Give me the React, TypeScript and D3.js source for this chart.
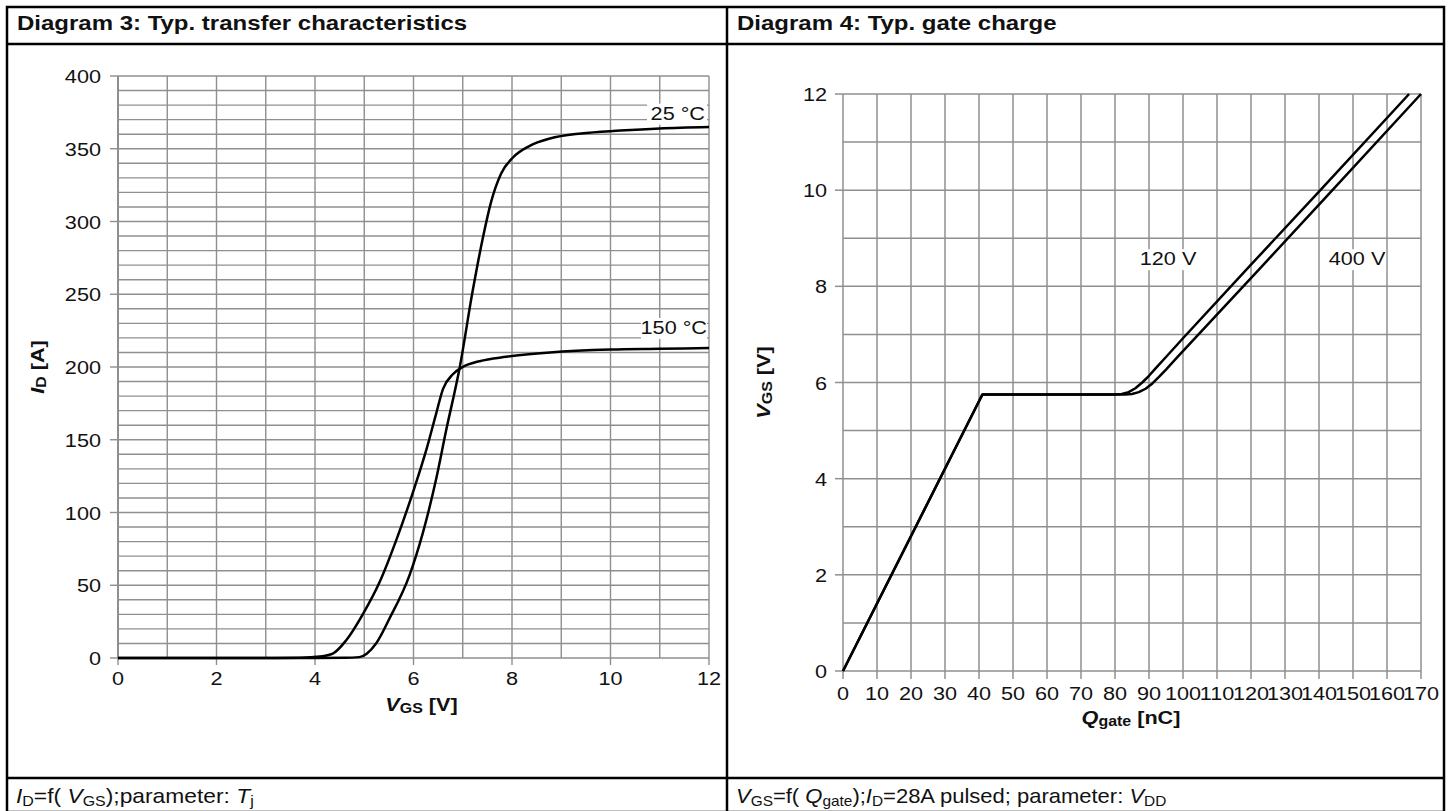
import React from "react";
import * as d3 from "d3";

// ---------- Diagram 3: transfer characteristics ----------
const vgs25 = [0, 1, 2, 3, 4, 4.6, 4.9, 5.05, 5.24, 5.51, 5.92, 6.19, 6.46, 6.66, 6.94, 7.2, 7.41, 7.58, 7.78, 8.02, 8.36, 8.77, 9.4, 10.2, 11, 12];
const id25 = [0, 0, 0, 0, 0, 0.1, 0.6, 3, 10, 27, 57, 86, 123, 156, 200, 252, 289, 314, 333, 344, 352, 357, 360.5, 362.5, 364, 365];
const vgs150 = [0, 1, 2, 3, 3.7, 4.1, 4.36, 4.63, 4.97, 5.31, 5.65, 5.99, 6.26, 6.46, 6.6, 6.8, 7.0, 7.34, 7.88, 8.77, 10, 11, 12];
const id150 = [0, 0, 0, 0, 0.2, 1, 3, 12, 30, 52, 81, 114, 143, 168, 185, 195, 200, 204, 207, 210, 212, 212.5, 213];
const xTicksL = [0, 2, 4, 6, 8, 10, 12];
const yTicksL = [0, 50, 100, 150, 200, 250, 300, 350, 400];

// ---------- Diagram 4: gate charge ----------
const q120 = [0, 41, 80, 82, 84, 86, 88, 90, 92, 95, 100, 120, 140, 166.5];
const v120 = [0, 5.75, 5.75, 5.76, 5.8, 5.88, 6.0, 6.14, 6.3, 6.53, 6.92, 8.45, 9.97, 12];
const q400 = [0, 41, 83, 85, 87, 89, 91, 93, 95, 98, 103, 123, 143, 170];
const v400 = [0, 5.75, 5.75, 5.76, 5.8, 5.87, 5.98, 6.12, 6.27, 6.5, 6.88, 8.4, 9.93, 12];
const xTicksR = [0, 10, 20, 30, 40, 50, 60, 70, 80, 90, 100, 110, 120, 130, 140, 150, 160, 170];
const yTicksR = [0, 2, 4, 6, 8, 10, 12];

const FONT = "'Liberation Sans', Arial, Helvetica, sans-serif";
const SX = 1.14;
const GRID = "#8f8f8f";

function T(props: any) {
  const { x, y, anchor = "start", size = 19, weight = "normal", rotate = 0, sx = SX, children, style } = props;
  return (
    <text
      transform={`translate(${x},${y}) rotate(${rotate}) scale(${sx},1)`}
      textAnchor={anchor}
      fontSize={size}
      fontWeight={weight}
      fontFamily={FONT}
      fill="#111"
      style={style}
    >
      {children}
    </text>
  );
}

export default function App() {
  const xL = d3.scaleLinear().domain([0, 12]).range([118, 709]);
  const yL = d3.scaleLinear().domain([0, 400]).range([658, 76]);
  const xR = d3.scaleLinear().domain([0, 170]).range([843, 1421]);
  const yR = d3.scaleLinear().domain([0, 12]).range([671, 94]);

  const lineL = d3
    .line<[number, number]>()
    .x((d) => xL(d[0]))
    .y((d) => yL(d[1]))
    .curve(d3.curveMonotoneX);
  const lineR = d3
    .line<[number, number]>()
    .x((d) => xR(d[0]))
    .y((d) => yR(d[1]))
    .curve(d3.curveLinear);

  const zip = (a: number[], b: number[]) => a.map((v, i) => [v, b[i]] as [number, number]);

  const gridVL = d3.range(0, 13, 1);
  const gridHL = d3.range(0, 401, 10);
  const gridVR = d3.range(0, 171, 10);
  const gridHR = d3.range(0, 13, 1);

  return (
    <svg width={1453} height={811} style={{ position: "absolute", left: 0, top: 0, background: "#fff" }}>
      <rect x={0} y={0} width={1453} height={811} fill="#fff" />

      <g stroke="#000" strokeWidth={2.5} fill="none">
        <rect x={7} y={7} width={1437} height={805} />
        <line x1={7} x2={1444} y1={44} y2={44} />
        <line x1={7} x2={1444} y1={778} y2={778} />
        <line x1={727} x2={727} y1={7} y2={812} />
      </g>

      <T x={17} y={30} size={20} weight="bold" sx={1.2}>Diagram 3: Typ. transfer characteristics</T>
      <T x={737} y={30} size={20} weight="bold" sx={1.2}>Diagram 4: Typ. gate charge</T>

      <T x={16} y={803} size={20} sx={1.14}>
        <tspan fontStyle="italic">I</tspan>
        <tspan fontSize={14} dy={3}>D</tspan>
        <tspan dy={-3}>=f( </tspan>
        <tspan fontStyle="italic">V</tspan>
        <tspan fontSize={14} dy={3}>GS</tspan>
        <tspan dy={-3}>);parameter:  </tspan>
        <tspan fontStyle="italic">T</tspan>
        <tspan fontSize={14} dy={3}>j</tspan>
      </T>
      <T x={736} y={803} size={20} sx={1.1}>
        <tspan fontStyle="italic">V</tspan>
        <tspan fontSize={14} dy={3}>GS</tspan>
        <tspan dy={-3}>=f( </tspan>
        <tspan fontStyle="italic">Q</tspan>
        <tspan fontSize={14} dy={3}>gate</tspan>
        <tspan dy={-3}>);</tspan>
        <tspan fontStyle="italic">I</tspan>
        <tspan fontSize={14} dy={3}>D</tspan>
        <tspan dy={-3}>=28A pulsed; parameter:  </tspan>
        <tspan fontStyle="italic">V</tspan>
        <tspan fontSize={14} dy={3}>DD</tspan>
      </T>

      {/* ---------- Left chart ---------- */}
      <g stroke={GRID} strokeWidth={1.4}>
        {gridHL.map((v) => (
          <line key={"hl" + v} x1={xL(0)} x2={xL(12)} y1={yL(v)} y2={yL(v)} />
        ))}
        {gridVL.map((v) => (
          <line key={"vl" + v} x1={xL(v)} x2={xL(v)} y1={yL(0)} y2={yL(400)} />
        ))}
        {yTicksL.map((v) => (
          <line key={"tyl" + v} x1={xL(0) - 8} x2={xL(0)} y1={yL(v)} y2={yL(v)} />
        ))}
        {xTicksL.map((v) => (
          <line key={"txl" + v} x1={xL(v)} x2={xL(v)} y1={yL(0)} y2={yL(0) + 7} />
        ))}
      </g>
      <line x1={xL(0)} x2={xL(0)} y1={yL(0)} y2={yL(400)} stroke={GRID} strokeWidth={2} />
      {yTicksL.map((v) => (
        <T key={"yl" + v} x={xL(0) - 17} y={yL(v) + 7} anchor="end">{v}</T>
      ))}
      {xTicksL.map((v) => (
        <T key={"xl" + v} x={xL(v)} y={yL(0) + 27} anchor="middle">{v}</T>
      ))}

      <path d={lineL(zip(vgs150, id150)) || ""} fill="none" stroke="#000" strokeWidth={2.5} />
      <path d={lineL(zip(vgs25, id25)) || ""} fill="none" stroke="#000" strokeWidth={2.5} />

      <rect x={xL(12) - 62} y={yL(370) - 16} width={60} height={21} fill="#fff" />
      <T x={xL(12) - 4} y={yL(370)} anchor="end">25 °C</T>
      <rect x={xL(12) - 68} y={yL(222.7) - 16} width={66} height={21} fill="#fff" />
      <T x={xL(12) - 2} y={yL(222.7)} anchor="end">150 °C</T>

      <T x={(xL(0) + xL(12)) / 2 + 8} y={711} anchor="middle" weight="bold">
        <tspan fontStyle="italic">V</tspan>
        <tspan fontSize={14} dy={2}>GS</tspan>
        <tspan dy={-2}> [V]</tspan>
      </T>
      <T x={44} y={yL(200)} anchor="middle" weight="bold" rotate={-90}>
        <tspan fontStyle="italic">I</tspan>
        <tspan fontSize={14} dy={2}>D</tspan>
        <tspan dy={-2}> [A]</tspan>
      </T>

      {/* ---------- Right chart ---------- */}
      <g stroke={GRID} strokeWidth={1.5}>
        {gridHR.map((v) => (
          <line key={"hr" + v} x1={xR(0)} x2={xR(170)} y1={yR(v)} y2={yR(v)} />
        ))}
        {gridVR.map((v) => (
          <line key={"vr" + v} x1={xR(v)} x2={xR(v)} y1={yR(0)} y2={yR(12)} />
        ))}
        {yTicksR.map((v) => (
          <line key={"tyr" + v} x1={xR(0) - 8} x2={xR(0)} y1={yR(v)} y2={yR(v)} />
        ))}
        {xTicksR.map((v) => (
          <line key={"txr" + v} x1={xR(v)} x2={xR(v)} y1={yR(0)} y2={yR(0) + 8} />
        ))}
      </g>
      {yTicksR.map((v) => (
        <T key={"yr" + v} x={xR(0) - 16} y={yR(v) + 7} anchor="end">{v}</T>
      ))}
      {xTicksR.map((v) => (
        <T key={"xr" + v} x={xR(v)} y={yR(0) + 29} anchor="middle">{v}</T>
      ))}

      <path d={lineR(zip(q120, v120)) || ""} fill="none" stroke="#000" strokeWidth={2.5} strokeLinejoin="round" />
      <path d={lineR(zip(q400, v400)) || ""} fill="none" stroke="#000" strokeWidth={2.5} strokeLinejoin="round" />

      <rect x={xR(95.6) - 29} y={yR(8.44) - 16} width={58} height={21} fill="#fff" />
      <T x={xR(95.6)} y={yR(8.44)} anchor="middle">120 V</T>
      <rect x={xR(151.2) - 29} y={yR(8.44) - 16} width={58} height={21} fill="#fff" />
      <T x={xR(151.2)} y={yR(8.44)} anchor="middle">400 V</T>

      <T x={1131} y={724} anchor="middle" weight="bold">
        <tspan fontStyle="italic">Q</tspan>
        <tspan fontSize={14} dy={2}>gate</tspan>
        <tspan dy={-2}> [nC]</tspan>
      </T>
      <T x={770} y={yR(6)} anchor="middle" weight="bold" rotate={-90}>
        <tspan fontStyle="italic">V</tspan>
        <tspan fontSize={14} dy={2}>GS</tspan>
        <tspan dy={-2}> [V]</tspan>
      </T>
    </svg>
  );
}
